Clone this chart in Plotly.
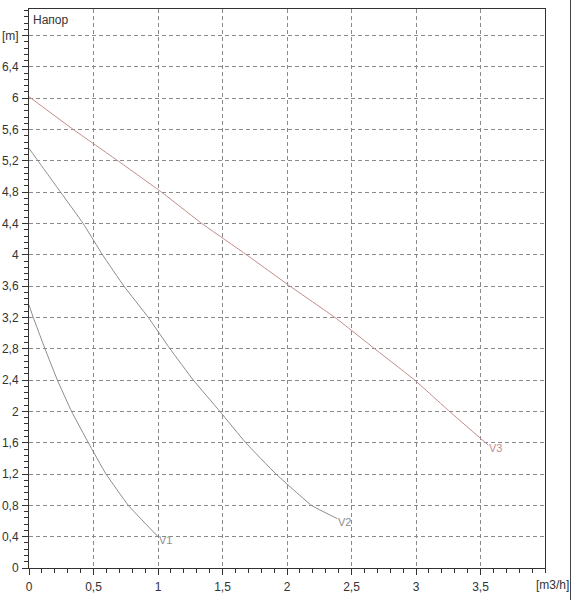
import plotly.graph_objects as go

# ---- data ----
v1_q = [0.0, 0.033, 0.124, 0.22, 0.33, 0.46, 0.597, 0.77, 1.0]
v1_h = [3.36, 3.2, 2.8, 2.4, 2.0, 1.6, 1.2, 0.8, 0.4]

v2_q = [0.0, 0.07, 0.245, 0.42, 0.57, 0.736, 0.925, 1.093, 1.274, 1.48, 1.68, 1.915, 2.19, 2.39]
v2_h = [5.36, 5.2, 4.8, 4.4, 4.0, 3.6, 3.2, 2.8, 2.4, 2.0, 1.6, 1.2, 0.8, 0.63]

v3_q = [0.0, 0.344, 0.69, 1.028, 1.34, 1.687, 2.023, 2.372, 2.68, 2.99, 3.26, 3.56]
v3_h = [6.02, 5.6, 5.2, 4.8, 4.4, 4.0, 3.6, 3.2, 2.8, 2.4, 2.0, 1.57]

series_names = ["V1", "V2", "V3"]
series_colors = ["#8c8c8c", "#8c8c8c", "#c48a8a"]

x_tickvals = [0, 0.5, 1, 1.5, 2, 2.5, 3, 3.5]
x_ticktext = ["0", "0,5", "1", "1,5", "2", "2,5", "3", "3,5"]
y_tickvals = [0, 0.4, 0.8, 1.2, 1.6, 2.0, 2.4, 2.8, 3.2, 3.6, 4.0, 4.4, 4.8, 5.2, 5.6, 6.0, 6.4, 6.8]
y_ticktext = ["0", "0,4", "0,8", "1,2", "1,6", "2", "2,4", "2,8", "3,2", "3,6", "4",
              "4,4", "4,8", "5,2", "5,6", "6", "6,4", "[m]"]

title_text = "Напор"
x_unit = "[m3/h]"

# ---- figure ----
fig = go.Figure()
for name, q, h, col in zip(series_names, [v1_q, v2_q, v3_q], [v1_h, v2_h, v3_h], series_colors):
    fig.add_trace(go.Scatter(x=q, y=h, mode="lines", name=name,
                             line=dict(color=col, width=1, shape="spline", smoothing=0.3),
                             hoverinfo="skip", showlegend=False))
    fig.add_annotation(x=q[-1], y=h[-1], text=name, showarrow=False,
                       xanchor="left", yanchor="middle", xshift=-1, yshift=-3,
                       font=dict(family="Liberation Sans, Arial", size=11, color=col))

font = dict(family="Liberation Sans, Arial", size=12, color="#333333")
axis_common = dict(showline=True, linecolor="#333333", linewidth=1, mirror=True,
                   ticks="outside", ticklen=6, tickcolor="#333333", tickwidth=1,
                   showgrid=True, gridcolor="#8a8a8a", griddash="4px,3px", gridwidth=1,
                   zeroline=False, tickfont=font, fixedrange=True, automargin=False)

fig.update_xaxes(range=[0, 4], tickmode="array", tickvals=x_tickvals, ticktext=x_ticktext,
                 minor=dict(dtick=0.1, tick0=0, ticks="outside", ticklen=4,
                            tickcolor="#333333", showgrid=False),
                 ticklabelstandoff=2, **axis_common)
fig.update_yaxes(range=[0, 7.14], tickmode="array", tickvals=y_tickvals, ticktext=y_ticktext,
                 minor=dict(dtick=0.08, tick0=0, ticks="outside", ticklen=4,
                            tickcolor="#333333", showgrid=False),
                 ticklabelstandoff=1, **axis_common)

fig.add_annotation(xref="paper", yref="paper", x=0, y=1, xanchor="left", yanchor="top",
                   xshift=2, yshift=-2, text=title_text, showarrow=False, font=font)
fig.add_annotation(x=4, xref="x", yref="paper", y=0, text=x_unit, showarrow=False,
                   xanchor="right", yanchor="top", xshift=26, yshift=-8, font=font)

# outer window edge on the right
fig.add_shape(type="line", xref="paper", yref="paper", x0=1.0494, x1=1.0494, y0=-0.06, y1=1.02,
              line=dict(color="#444444", width=1))

fig.update_layout(width=573, height=600,
                  margin=dict(l=29, r=28, t=9, b=32, autoexpand=False),
                  paper_bgcolor="white", plot_bgcolor="white",
                  font=font)

fig.write_html("out.html",
               config={"displayModeBar": False, "staticPlot": True},
               post_script="document.body.style.margin='0';document.body.style.overflow='hidden';")
